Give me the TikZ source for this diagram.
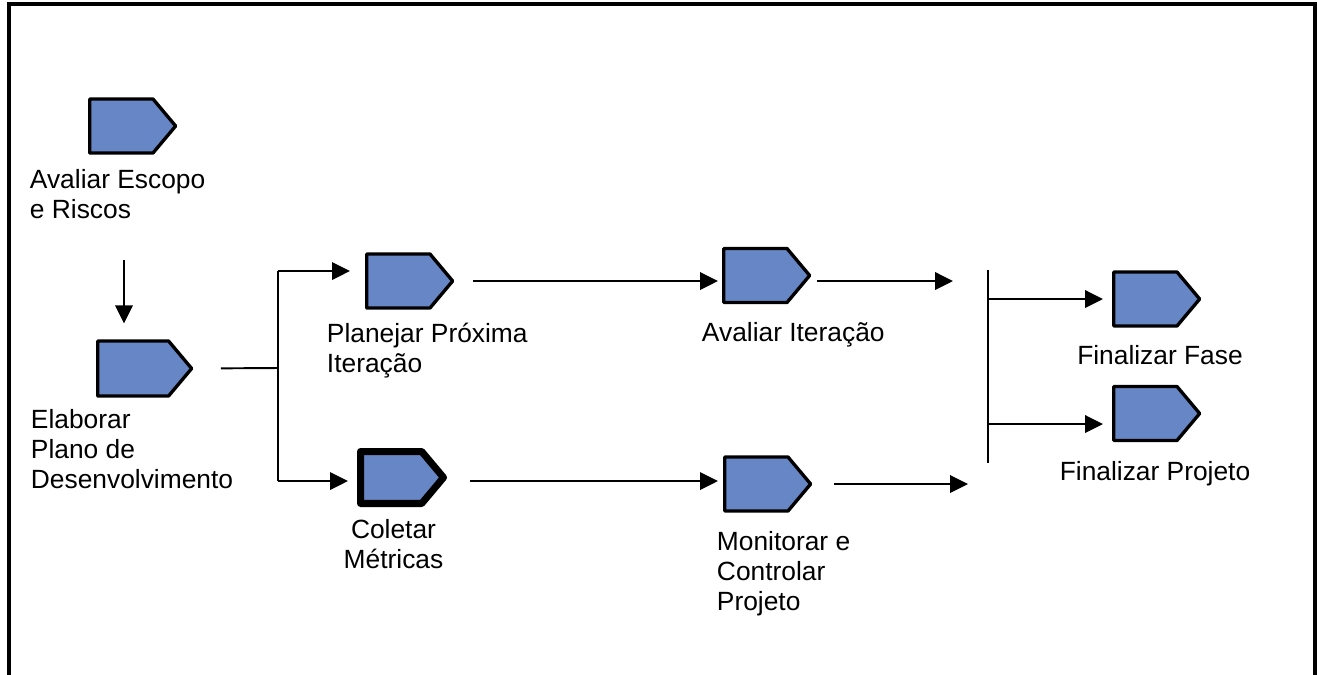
\documentclass[tikz,border=0pt]{standalone}
\usepackage{fontspec}
\setmainfont{Liberation Sans}
\usetikzlibrary{shapes.symbols,arrows.meta}
\definecolor{taskblue}{RGB}{103,134,198}
\begin{document}
\begin{tikzpicture}[x=0.02cm, y=-0.02cm, line width=1.1pt,
    font=\fontsize{15pt}{17pt}\selectfont,
    >={Triangle[length=0.36cm,width=0.35cm]},
    task/.style={signal, signal to=east, signal pointer angle=100, draw, line width=1.9pt,
      line join=round, fill=taskblue, minimum width=1.72cm, minimum height=1.08cm,
      inner sep=0pt, anchor=west},
    lbl/.style={anchor=base west, align=left, inner sep=0pt}]
  \useasboundingbox (0,0) rectangle (1317,674);
  \draw[line width=2pt] (9,690) -- (9,4) -- (1315,4) -- (1315,690);
  \node[task] (escopo) at (88,126) {};
  \node[task, minimum width=1.88cm, minimum height=1.1cm] (plano) at (96,368.5) {};
  \node[task] (planejar) at (365,281) {};
  \node[task, line width=4pt, minimum width=1.66cm, minimum height=1.04cm] (coletar) at (357,477.5) {};
  \node[task] (avaliar) at (722,275.5) {};
  \node[task] (monitorar) at (723,484) {};
  \node[task] (fase) at (1112,299) {};
  \node[task] (projeto) at (1112,413.5) {};
  \node[lbl] (escopoTxt) at (29,218) {Avaliar Escopo\\e Riscos};
  \node[lbl] (planoTxt) at (30,488) {Elaborar\\Plano de\\Desenvolvimento};
  \node[lbl] (planejarTxt) at (326,372) {Planejar Próxima\\Iteração};
  \node[lbl, anchor=base, align=center] (coletarTxt) at (393.5,568) {Coletar\\Métricas};
  \node[lbl] (avaliarTxt) at (701,341) {Avaliar Iteração};
  \node[lbl] (monitorarTxt) at (716,610) {Monitorar e\\Controlar\\Projeto};
  \node[lbl, anchor=base] (faseTxt) at (1160,364) {Finalizar Fase};
  \node[lbl, anchor=base] (projetoTxt) at (1155,480) {Finalizar Projeto};
  \coordinate (down) at (124,260);
  \coordinate (fork) at (278,368);
  \coordinate (forkTop) at (278,271);
  \coordinate (forkBot) at (278,481);
  \coordinate (barTop) at (988,270);
  \coordinate (barBot) at (988,463);
  \coordinate (projIn) at (988,424);
  \draw[->, shorten >=0.32cm] (down) -- (down |- plano.north);
  \draw[shorten <=0.54cm] (plano.east) -- (fork);
  \draw (forkTop) -- (forkBot);
  \draw[->, shorten >=0.3cm] (forkTop) -- (forkTop -| planejar.west);
  \draw[->, shorten >=0.18cm] (forkBot) -- (forkBot -| coletar.west);
  \draw[->, shorten <=0.36cm, shorten >=0.08cm] (planejar.east) -- (planejar.east -| avaliar.west);
  \draw[->, shorten <=0.44cm, shorten >=0.1cm] (coletar.east |- forkBot) -- (monitorar.west |- forkBot);
  \draw[->, shorten <=0.1cm, shorten >=0.7cm] (avaliar.east |- planejar.east) -- (barTop |- planejar.east);
  \draw[->, shorten <=0.42cm, shorten >=0.4cm] (monitorar.east) -- (monitorar.east -| barTop);
  \draw (barTop) -- (barBot);
  \draw[->, shorten >=0.18cm] (barTop |- fase.west) -- (fase.west);
  \draw[->, shorten >=0.18cm] (projIn) -- (projIn -| projeto.west);
\end{tikzpicture}
\end{document}
